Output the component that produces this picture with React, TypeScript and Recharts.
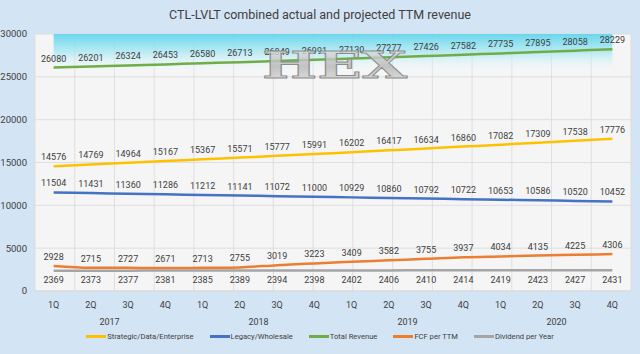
import React from "react";
import {
  LineChart,
  Line,
  XAxis,
  YAxis,
  CartesianGrid,
  LabelList,
  ReferenceArea,
} from "recharts";

const quarters = ["1Q", "2Q", "3Q", "4Q", "1Q", "2Q", "3Q", "4Q", "1Q", "2Q", "3Q", "4Q", "1Q", "2Q", "3Q", "4Q"];
const years = ["2017", "2017", "2017", "2017", "2018", "2018", "2018", "2018", "2019", "2019", "2019", "2019", "2020", "2020", "2020", "2020"];

const strategic = [14576, 14769, 14964, 15167, 15367, 15571, 15777, 15991, 16202, 16417, 16634, 16860, 17082, 17309, 17538, 17776];
const legacy = [11504, 11431, 11360, 11286, 11212, 11141, 11072, 11000, 10929, 10860, 10792, 10722, 10653, 10586, 10520, 10452];
const totalRevenue = [26080, 26201, 26324, 26453, 26580, 26713, 26849, 26991, 27130, 27277, 27426, 27582, 27735, 27895, 28058, 28229];
const fcf = [2928, 2715, 2727, 2671, 2713, 2755, 3019, 3223, 3409, 3582, 3755, 3937, 4034, 4135, 4225, 4306];
const dividend = [2369, 2373, 2377, 2381, 2385, 2389, 2394, 2398, 2402, 2406, 2410, 2414, 2419, 2423, 2427, 2431];

const yTicks = [0, 5000, 10000, 15000, 20000, 25000, 30000];
// category boundaries, used for the vertical gridlines
const gridTicks = [0, ...quarters.map((_, i) => i + 1)];

const series = [
  { key: "strategic", name: "Strategic/Data/Enterprise", color: "#FFC000", values: strategic, pos: "top" },
  { key: "legacy", name: "Legacy/Wholesale", color: "#4472C4", values: legacy, pos: "top" },
  { key: "total", name: "Total Revenue", color: "#70AD47", values: totalRevenue, pos: "top" },
  { key: "fcf", name: "FCF per TTM", color: "#ED7D31", values: fcf, pos: "top" },
  { key: "dividend", name: "Dividend per Year", color: "#A5A5A5", values: dividend, pos: "bottom" },
];

const data = quarters.map((q, i) => {
  const row: any = { cat: `${years[i]}-${q}`, q, year: years[i] };
  series.forEach((s) => (row[s.key] = s.values[i]));
  return row;
});

const FONT = "Roboto, 'Noto Sans', sans-serif";
const TEXT = "#404040";
const W = 640;
const H = 354;
const BAND = (640 - 35 - 9) / quarters.length;

const QuarterTick = (props: any) => {
  const { x, y, index } = props;
  return (
    <g>
      <text x={x} y={y + 9} textAnchor="middle" fill={TEXT} fontSize={9} fontFamily={FONT}>
        {quarters[index]}
      </text>
      {index % 4 === 1 && (
        <text x={x + BAND / 2} y={y + 26} textAnchor="middle" fill={TEXT} fontSize={9} fontFamily={FONT}>
          {years[index]}
        </text>
      )}
    </g>
  );
};

const labelStyle = { fontSize: 9, fill: TEXT, fontFamily: FONT };

export default function App() {
  return (
    <div
      style={{
        position: "absolute",
        left: 0,
        top: 0,
        width: W,
        height: H,
        background: "#d3e4f4",
        fontFamily: FONT,
        overflow: "hidden",
      }}
    >
      <div
        style={{
          position: "absolute",
          top: 7,
          left: 0,
          width: W,
          textAlign: "center",
          fontSize: 12.5,
          color: TEXT,
        }}
      >
        CTL-LVLT combined actual and projected TTM revenue
      </div>
      <div style={{ position: "absolute", left: 0, top: 0 }}>
        <LineChart
          width={W}
          height={H}
          data={data}
          margin={{ top: 34, right: 9, left: 0, bottom: 27 }}
        >
          <defs>
            <linearGradient id="swoosh" x1="0" y1="0" x2="0" y2="1">
              <stop offset="0%" stopColor="#5ad3eb" stopOpacity={0.9} />
              <stop offset="45%" stopColor="#a6e7f3" stopOpacity={0.75} />
              <stop offset="100%" stopColor="#ffffff" stopOpacity={0} />
            </linearGradient>
          </defs>
          <XAxis xAxisId="grid" type="number" domain={[0, quarters.length]} ticks={gridTicks} hide />
          <CartesianGrid xAxisId="grid" stroke="#d9d9d9" strokeWidth={0.8} fill="#f5f5f5" />
          <ReferenceArea y1={25300} y2={30000} fill="url(#swoosh)" fillOpacity={1} stroke="none" />
          <XAxis
            dataKey="cat"
            interval={0}
            tickLine={false}
            axisLine={{ stroke: "#d9d9d9" }}
            tick={<QuarterTick />}
            padding={{ left: BAND / 2, right: BAND / 2 }}
            height={36}
          />
          <YAxis
            domain={[0, 30000]}
            ticks={yTicks}
            width={35}
            tickLine={false}
            axisLine={false}
            tick={{ fontSize: 9.5, fill: TEXT, fontFamily: FONT }}
          />
          {series.map((s) => (
            <Line
              key={s.key}
              type="monotone"
              dataKey={s.key}
              name={s.name}
              stroke={s.color}
              strokeWidth={2.5}
              dot={false}
              isAnimationActive={false}
            >
              <LabelList dataKey={s.key} position={s.pos as any} offset={6} style={labelStyle} />
            </Line>
          ))}
        </LineChart>
      </div>
      <svg
        width={W}
        height={H}
        style={{ position: "absolute", left: 0, top: 0, pointerEvents: "none" }}
      >
        <defs>
          <linearGradient id="metal" x1="0" y1="0" x2="0" y2="1">
            <stop offset="0%" stopColor="#f2f2f2" stopOpacity={0.8} />
            <stop offset="55%" stopColor="#b5b5b5" stopOpacity={0.8} />
            <stop offset="100%" stopColor="#e6e6e6" stopOpacity={0.8} />
          </linearGradient>
        </defs>
        <text
          x={262}
          y={78}
          textLength={145}
          lengthAdjust="spacingAndGlyphs"
          fontFamily="'DejaVu Serif', serif"
          fontSize={38}
          fontWeight="bold"
          fill="url(#metal)"
          stroke="#8c8c8c"
          strokeWidth={0.8}
        >
          HEX
        </text>
      </svg>
      <div
        style={{
          position: "absolute",
          left: 0,
          top: 332,
          width: W,
          display: "flex",
          justifyContent: "center",
          gap: 16,
          fontSize: 7.6,
          color: TEXT,
        }}
      >
        {series.map((s) => (
          <div key={s.key} style={{ display: "flex", alignItems: "center" }}>
            <span style={{ display: "inline-block", width: 20, height: 3, background: s.color, marginRight: 1 }} />
            {s.name}
          </div>
        ))}
      </div>
    </div>
  );
}
